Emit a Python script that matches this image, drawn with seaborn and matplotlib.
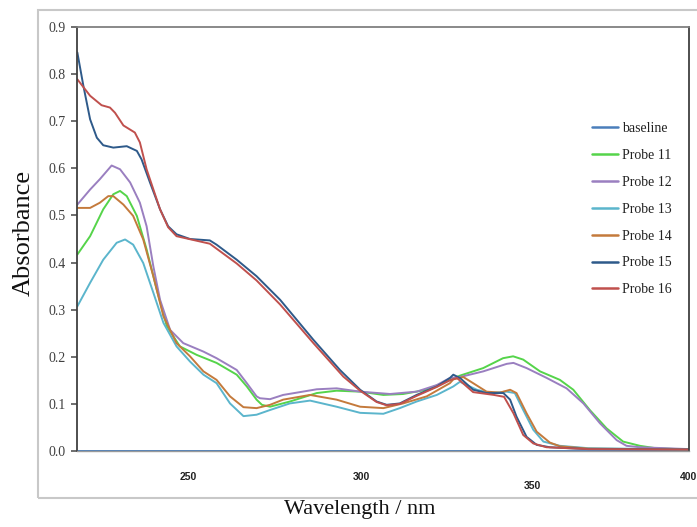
import numpy as np
import pandas as pd
import matplotlib
matplotlib.use("Agg")
import matplotlib.pyplot as plt
import matplotlib.transforms as mtransforms
from matplotlib.patches import Rectangle
import seaborn as sns

# ---- data ----
wl_baseline = [218, 250, 300, 350, 400]
ab_baseline = [0.0, 0.0, 0.0, 0.0, 0.0]

wl_p11 = [218.1, 221.9, 225.8, 228.8, 230.8, 232.8, 235.8, 238.7, 241.7, 244.7, 248.6, 253.6, 259.5,
          265.5, 268.5, 271.4, 273.0, 275.4, 281.3, 289.3, 295.2, 302.2, 309.1, 315.0, 322.0, 328.9,
          331.9, 338.8, 344.7, 347.7, 350.7, 355.7, 361.6, 365.6, 370.5, 375.5, 380.4, 385.4, 390, 400]
ab_p11 = [0.417, 0.456, 0.513, 0.545, 0.552, 0.541, 0.499, 0.428, 0.343, 0.265, 0.222, 0.204, 0.187,
          0.162, 0.137, 0.109, 0.098, 0.094, 0.105, 0.123, 0.128, 0.126, 0.119, 0.121, 0.130, 0.151,
          0.160, 0.176, 0.197, 0.201, 0.194, 0.169, 0.151, 0.130, 0.087, 0.048, 0.020, 0.011, 0.006, 0.003]

wl_p12 = [218.1, 221.9, 224.8, 228.3, 230.8, 233.8, 236.7, 238.7, 240.7, 242.7, 245.7, 249.6, 255.6,
          259.5, 265.5, 268.5, 271.4, 272.4, 275.4, 279.3, 289.3, 295.2, 302.2, 311.1, 319.0, 325.0,
          328.9, 331.9, 338.8, 345.8, 347.8, 351.7, 357.7, 363.6, 368.6, 373.5, 378.5, 381.4, 385.4, 400]
ab_p12 = [0.523, 0.555, 0.577, 0.606, 0.598, 0.570, 0.527, 0.477, 0.392, 0.321, 0.257, 0.229, 0.211,
          0.197, 0.172, 0.144, 0.116, 0.112, 0.110, 0.119, 0.131, 0.133, 0.126, 0.121, 0.126, 0.140,
          0.155, 0.157, 0.169, 0.185, 0.187, 0.176, 0.155, 0.133, 0.101, 0.059, 0.023, 0.011, 0.008, 0.004]

wl_p13 = [218.1, 221.9, 225.8, 229.8, 232.3, 234.7, 237.7, 240.7, 243.7, 247.6, 251.6, 255.6, 259.5,
          263.5, 267.5, 271.4, 275.4, 281.3, 287.3, 295.2, 302.2, 309.1, 314.0, 319.0, 325.0, 329.9,
          331.9, 333.9, 336.9, 340.8, 345.8, 348.2, 350.7, 353.7, 356.7, 361.6, 370, 400]
ab_p13 = [0.307, 0.357, 0.406, 0.442, 0.449, 0.438, 0.399, 0.336, 0.272, 0.222, 0.190, 0.162, 0.144,
          0.101, 0.074, 0.077, 0.087, 0.101, 0.107, 0.094, 0.081, 0.079, 0.091, 0.105, 0.119, 0.137,
          0.147, 0.140, 0.130, 0.123, 0.126, 0.123, 0.087, 0.045, 0.020, 0.011, 0.006, 0.003]

wl_p14 = [218.1, 221.9, 224.8, 227.3, 228.8, 231.8, 234.7, 237.7, 240.7, 243.7, 247.6, 251.6, 255.6,
          259.5, 263.5, 267.5, 271.4, 275.4, 279.3, 287.3, 295.2, 302.2, 309.1, 315.0, 322.0, 328.9,
          329.9, 332.9, 335.8, 339.8, 343.8, 346.8, 348.7, 351.7, 354.7, 358.6, 361.6, 370, 400]
ab_p14 = [0.516, 0.516, 0.527, 0.541, 0.541, 0.523, 0.499, 0.449, 0.371, 0.286, 0.229, 0.201, 0.169,
          0.151, 0.116, 0.093, 0.091, 0.098, 0.109, 0.119, 0.109, 0.094, 0.091, 0.101, 0.116, 0.144,
          0.152, 0.157, 0.144, 0.126, 0.124, 0.130, 0.123, 0.080, 0.041, 0.018, 0.010, 0.005, 0.003]

wl_p15 = [218.1, 219.9, 221.9, 223.9, 225.8, 228.8, 232.8, 235.8, 237.2, 239.7, 242.7, 245.1, 247.6,
          251.6, 257.5, 259.5, 265.5, 271.4, 278.4, 288.3, 296.2, 302.2, 307.1, 310.1, 314.0, 319.0,
          325.0, 328.9, 329.9, 331.9, 335.8, 339.8, 344.8, 346.8, 348.7, 351.7, 354.7, 358.6, 370, 400]
ab_p15 = [0.846, 0.775, 0.704, 0.665, 0.649, 0.644, 0.647, 0.637, 0.619, 0.570, 0.513, 0.477, 0.460,
          0.450, 0.447, 0.438, 0.406, 0.371, 0.321, 0.236, 0.172, 0.130, 0.105, 0.098, 0.101, 0.119,
          0.137, 0.155, 0.162, 0.155, 0.130, 0.123, 0.123, 0.109, 0.073, 0.030, 0.013, 0.008, 0.004, 0.003]

wl_p16 = [218.1, 221.9, 225.3, 227.8, 229.3, 231.8, 235.2, 236.7, 238.7, 242.7, 245.1, 247.6, 257.5,
          265.5, 271.4, 278.4, 288.3, 297.2, 302.2, 307.1, 310.1, 314.0, 319.0, 325.0, 328.9, 331.0,
          335.8, 342.0, 345.0, 347.8, 350.7, 353.7, 357.6, 370, 400]
ab_p16 = [0.789, 0.754, 0.734, 0.729, 0.718, 0.691, 0.676, 0.655, 0.598, 0.513, 0.475, 0.456, 0.440,
          0.398, 0.362, 0.311, 0.229, 0.158, 0.128, 0.104, 0.097, 0.100, 0.117, 0.136, 0.150, 0.155,
          0.125, 0.119, 0.115, 0.080, 0.034, 0.016, 0.008, 0.004, 0.003]

series_names = ["baseline", "Probe 11", "Probe 12", "Probe 13", "Probe 14", "Probe 15", "Probe 16"]
series_wl = [wl_baseline, wl_p11, wl_p12, wl_p13, wl_p14, wl_p15, wl_p16]
series_ab = [ab_baseline, ab_p11, ab_p12, ab_p13, ab_p14, ab_p15, ab_p16]
colors = ["#4a7ebb", "#55d44a", "#9a7fc0", "#5bb5cc", "#c47a3c", "#2e5a8a", "#c0504d"]

x_ticks = [250, 300, 350, 400]
y_ticks = [0.0, 0.1, 0.2, 0.3, 0.4, 0.5, 0.6, 0.7, 0.8, 0.9]

frames = []
for name, w, a in zip(series_names, series_wl, series_ab):
    frames.append(pd.DataFrame({"Wavelength": w, "Absorbance": a, "series": name}))
df = pd.concat(frames, ignore_index=True)

# ---- plot ----
sns.set_theme(style="white")
plt.rcParams["font.family"] = ["Liberation Serif", "DejaVu Serif"]

fig = plt.figure(figsize=(6.97, 5.27), dpi=100)
ax = fig.add_axes([77 / 697, 1 - 451 / 527, (689 - 77) / 697, (451 - 27) / 527])

# outer frame
fig.patches.append(Rectangle((38 / 697, 1 - 498 / 527), 1.0, (498 - 10) / 527,
                             transform=fig.transFigure, fill=False,
                             edgecolor="#c8c8c8", linewidth=1.5, zorder=0))

sns.lineplot(data=df, x="Wavelength", y="Absorbance", hue="series",
             hue_order=series_names, palette=dict(zip(series_names, colors)),
             estimator=None, sort=False, linewidth=1.4, ax=ax)
for ln in ax.get_lines():
    ln.set_solid_joinstyle("round")

ax.set_xlim(218, 400)
ax.set_ylim(0, 0.9)
ax.set_yticks(y_ticks)
ax.set_yticklabels([f"{v:.1f}" for v in y_ticks], fontsize=10, color="#404040")
ax.set_xticks(x_ticks)
ax.set_xticklabels([str(v) for v in x_ticks], fontsize=7.5, fontweight="bold",
                   family=["Liberation Sans", "DejaVu Sans"], color="#222222")
ax.tick_params(axis="x", length=0, pad=15)
ax.tick_params(axis="y", direction="out", length=4, width=1.2, color="#555555", pad=4, left=True)
# label offsets as in the reference (350 sits lower)
offsets_px = [(4, 0), (9, 0), (12, -9), (-1, 0)]
for lbl, (dx, dy) in zip(ax.get_xticklabels(), offsets_px):
    lbl.set_transform(lbl.get_transform() +
                      mtransforms.ScaledTranslation(dx / 100, dy / 100, fig.dpi_scale_trans))

for s in ["left", "right"]:
    ax.spines[s].set_color("#404040")
    ax.spines[s].set_linewidth(1.3)
ax.spines["top"].set_color("#808080")
ax.spines["top"].set_linewidth(1.3)
ax.spines["bottom"].set_color("#9a9a9a")
ax.spines["bottom"].set_linewidth(1.0)

ax.set_xlabel("Wavelength / nm", fontsize=16, color="#111111")
ax.set_ylabel("Absorbance", fontsize=19, color="#111111")
ax.xaxis.set_label_coords((360 - 77) / 612, -(500 - 451) / 424)
ax.yaxis.set_label_coords(-(77 - 35) / 612, (451 - 233) / 424)

leg = ax.legend(loc="upper left", bbox_to_anchor=((592 - 77) / 612, (451 - 122) / 424),
                frameon=False, fontsize=10, handlelength=1.9, handletextpad=0.25,
                labelspacing=1.0, borderpad=0, borderaxespad=0)
for line in leg.get_lines():
    line.set_linewidth(1.8)
for t in leg.get_texts():
    t.set_color("#222222")

fig.savefig("out.png", dpi=100)
